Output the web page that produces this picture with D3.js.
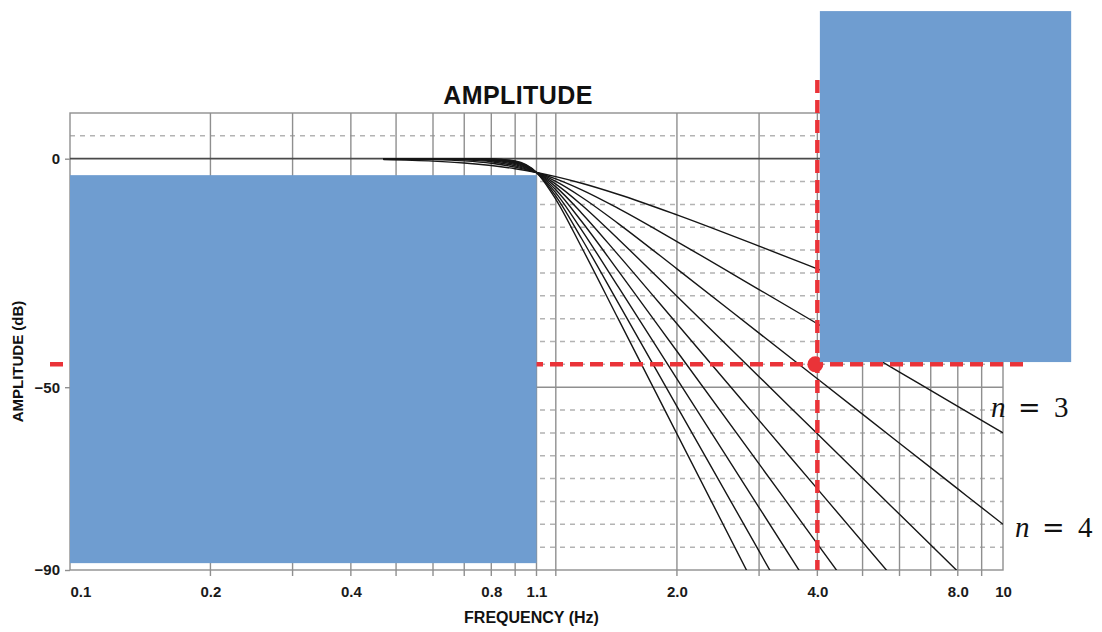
<!DOCTYPE html>
<html lang="en">
<head>
    <meta charset="UTF-8">
    <script src="https://cdnjs.cloudflare.com/ajax/libs/d3/7.8.5/d3.min.js"></script>
    <title>Amplitude</title>
    <style>
        body { margin: 0; background: #fff; }
        svg { display: block; font-family: "Liberation Sans", Arial, sans-serif; }
        .tick-label { fill: #1a1a1a; font-size: 15px; font-weight: 700; }
        .axis-title { fill: #111; font-weight: 700; }
        .n-label { fill: #111; font-family: "Liberation Serif", serif; font-size: 29px; }
    </style>
</head>
<body>
<script>
    // frequencies (Hz) at which the curves are read
    const freqs = [0.47, 0.6, 0.7, 0.8, 0.9, 1.0, 1.1, 1.25, 1.5, 2, 3, 4, 6, 8, 10];
    const orders = [2, 3, 4, 5, 6, 7, 8, 9, 10];

    // amplitude (dB) per filter order, aligned with freqs
    const dbN2 = [-0.21, -0.53, -0.93, -1.49, -2.19, -3.01, -3.92, -5.37, -7.83, -12.3, -19.14, -24.1, -31.13, -36.12, -40.0];
    const dbN3 = [-0.05, -0.2, -0.48, -1.01, -1.85, -3.01, -4.43, -6.83, -10.93, -18.13, -28.64, -36.12, -46.69, -54.19, -60.0];
    const dbN4 = [-0.01, -0.07, -0.24, -0.67, -1.56, -3.01, -4.98, -8.43, -14.25, -24.1, -38.17, -48.16, -62.26, -72.25, -80.0];
    const dbN5 = [0, -0.03, -0.12, -0.44, -1.3, -3.01, -5.56, -10.13, -17.68, -30.11, -47.71, -60.21, -77.82, -90.31];
    const dbN6 = [0, -0.01, -0.06, -0.29, -1.08, -3.01, -6.17, -11.92, -21.16, -36.12, -57.25, -72.25, -93.38];
    const dbN7 = [0, 0, -0.03, -0.19, -0.89, -3.01, -6.81, -13.75, -24.67, -42.14, -66.79, -84.29, -108.9];
    const dbN8 = [0, 0, -0.01, -0.12, -0.74, -3.01, -7.48, -15.62, -28.18, -48.16, -76.34, -96.33];
    const dbN9 = [0, 0, -0.01, -0.08, -0.61, -3.01, -8.17, -17.52, -31.7, -54.19, -85.88, -108.4];
    const dbN10 = [0, 0, 0, -0.05, -0.5, -3.01, -8.88, -19.43, -35.22, -60.21, -95.42];
    const series = [dbN2, dbN3, dbN4, dbN5, dbN6, dbN7, dbN8, dbN9, dbN10];
    const labelledOrders = [3, 4];

    // axes
    const xDomain = [0.1, 10];
    const yDomain = [-90, 10];
    const xTickValues = [0.1, 0.2, 0.4, 0.8, 1.0, 2, 4, 8, 10];
    const xTickLabels = ['0.1', '0.2', '0.4', '0.8', '1.1', '2.0', '4.0', '8.0', '10'];
    const yTickValues = [0, -50, -90];
    const xGrid = [0.2, 0.3, 0.4, 0.5, 0.6, 0.7, 0.8, 0.9, 1.0, 1.1, 2, 3, 4, 5, 6, 7, 8, 9];
    const yDashed = [5, -5, -10, -15, -20, -25, -30, -35, -40, -45, -55, -60, -65, -70, -75, -80, -85];
    const ySolid = [-50];

    // red marker (4 Hz, -45 dB)
    const markerFreq = 4;
    const markerDb = -45;

    // blue boxes laid over the chart, in data units
    const boxes = [
        {f0: 0.1, f1: 1.0, db0: -3.6, db1: -88.5},
        {f0: 4.05, f1: 14, db0: 32.3, db1: -44.5}
    ];

    const width = 1102;
    const height = 632;
    const plotLeft = 70;
    const plotRight = 1003;
    const plotTop = 113;
    const plotBottom = 570;

    const gridColor = '#8f8f8f';
    const dashColor = '#b3b3b3';
    const red = '#ea3338';
    const blue = '#6f9dd0';

    const x = d3.scaleLog().domain(xDomain).range([plotLeft, plotRight]);
    const y = d3.scaleLinear().domain(yDomain).range([plotBottom, plotTop]);

    const svg = d3.select('body').append('svg')
        .attr('width', width)
        .attr('height', height);

    svg.append('defs').append('clipPath')
        .attr('id', 'plot-clip')
        .append('rect')
        .attr('x', plotLeft)
        .attr('y', plotTop)
        .attr('width', plotRight - plotLeft)
        .attr('height', plotBottom - plotTop);

    // dashed horizontal grid
    svg.append('g').selectAll('line')
        .data(yDashed)
        .join('line')
        .attr('x1', plotLeft).attr('x2', plotRight)
        .attr('y1', d => y(d)).attr('y2', d => y(d))
        .attr('stroke', dashColor)
        .attr('stroke-width', 1.5)
        .attr('stroke-dasharray', '5,5');

    // solid horizontal grid
    svg.append('g').selectAll('line')
        .data(ySolid)
        .join('line')
        .attr('x1', plotLeft).attr('x2', plotRight)
        .attr('y1', d => y(d)).attr('y2', d => y(d))
        .attr('stroke', gridColor)
        .attr('stroke-width', 1.4);

    // vertical grid, running a little below the axis as ticks
    svg.append('g').selectAll('line')
        .data(xGrid)
        .join('line')
        .attr('x1', d => x(d)).attr('x2', d => x(d))
        .attr('y1', plotTop).attr('y2', plotBottom + 6)
        .attr('stroke', gridColor)
        .attr('stroke-width', 1.4);

    // frame
    svg.append('rect')
        .attr('x', x(xDomain[0]))
        .attr('y', y(yDomain[1]))
        .attr('width', x(xDomain[1]) - x(xDomain[0]))
        .attr('height', y(yDomain[0]) - y(yDomain[1]))
        .attr('fill', 'none')
        .attr('stroke', gridColor)
        .attr('stroke-width', 1.4);

    // 0 dB line
    svg.append('line')
        .attr('x1', plotLeft).attr('x2', plotRight)
        .attr('y1', y(0)).attr('y2', y(0))
        .attr('stroke', '#4a4a4a')
        .attr('stroke-width', 1.7);

    // axes (labels only, lines come from the grid)
    const xAxis = d3.axisBottom(x)
        .tickValues(xTickValues)
        .tickSize(0)
        .tickPadding(16)
        .tickFormat((d, i) => xTickLabels[i]);

    const gx = svg.append('g')
        .attr('transform', 'translate(0,' + plotBottom + ')')
        .call(xAxis);
    gx.select('.domain').remove();
    gx.selectAll('text')
        .attr('class', 'tick-label')
        .attr('text-anchor', (d, i) => i === 0 ? 'start' : 'middle');

    const yAxis = d3.axisLeft(y)
        .tickValues(yTickValues)
        .tickSize(5)
        .tickPadding(5);

    const gy = svg.append('g')
        .attr('transform', 'translate(' + plotLeft + ',0)')
        .call(yAxis);
    gy.select('.domain').remove();
    gy.selectAll('line').attr('stroke', gridColor).attr('stroke-width', 1.4);
    gy.selectAll('text').attr('class', 'tick-label').attr('font-size', null);

    // curves
    const line = d3.line()
        .x(d => x(d.f))
        .y(d => y(d.db))
        .curve(d3.curveMonotoneX);

    const curves = orders.map((n, i) => ({
        n: n,
        points: series[i].map((db, j) => ({f: freqs[j], db: db}))
    }));

    svg.append('g')
        .attr('clip-path', 'url(#plot-clip)')
        .selectAll('path')
        .data(curves)
        .join('path')
        .attr('d', d => line(d.points))
        .attr('fill', 'none')
        .attr('stroke', '#161616')
        .attr('stroke-width', 1.4);

    // red marker lines and dot
    const mx = x(markerFreq);
    const my = y(markerDb);
    svg.append('line')
        .attr('x1', plotLeft - 20).attr('x2', plotRight + 27)
        .attr('y1', my).attr('y2', my)
        .attr('stroke', red)
        .attr('stroke-width', 4.5)
        .attr('stroke-dasharray', '13,7');
    svg.append('line')
        .attr('x1', mx).attr('x2', mx)
        .attr('y1', plotTop - 33).attr('y2', plotBottom)
        .attr('stroke', red)
        .attr('stroke-width', 4.5)
        .attr('stroke-dasharray', '13,7');
    svg.append('circle')
        .attr('cx', mx - 2)
        .attr('cy', my)
        .attr('r', 8)
        .attr('fill', red);

    // blue boxes
    svg.append('g').selectAll('rect')
        .data(boxes)
        .join('rect')
        .attr('x', d => x(d.f0))
        .attr('y', d => y(d.db0))
        .attr('width', d => x(d.f1) - x(d.f0))
        .attr('height', d => y(d.db1) - y(d.db0))
        .attr('fill', blue);

    // order labels at the end of their curves
    const labelOffsets = {3: {dx: -12, dy: -16}, 4: {dx: 12, dy: 13}};
    labelledOrders.forEach(function(n) {
        const c = curves.find(d => d.n === n);
        const end = c.points[c.points.length - 1];
        const lx = x(end.f) + labelOffsets[n].dx;
        const ly = y(end.db) + labelOffsets[n].dy;
        const t = svg.append('text')
            .attr('class', 'n-label')
            .attr('y', ly);
        t.append('tspan').attr('x', lx).attr('font-style', 'italic').text('n');
        t.append('tspan').attr('x', lx + 27)
            .attr('font-family', '"DejaVu Serif", serif')
            .attr('font-size', 27)
            .text('=');
        t.append('tspan').attr('x', lx + 63).text(n);
    });

    // titles
    svg.append('text')
        .attr('class', 'axis-title')
        .attr('x', 518)
        .attr('y', 104)
        .attr('text-anchor', 'middle')
        .attr('font-size', 25)
        .attr('letter-spacing', 0.4)
        .text('AMPLITUDE');

    svg.append('text')
        .attr('class', 'axis-title')
        .attr('x', (plotLeft + plotRight) / 2 - 5)
        .attr('y', 623)
        .attr('text-anchor', 'middle')
        .attr('font-size', 16)
        .text('FREQUENCY (Hz)');

    svg.append('text')
        .attr('class', 'axis-title')
        .attr('transform', 'translate(23,' + ((plotTop + plotBottom) / 2 + 20) + ') rotate(-90)')
        .attr('text-anchor', 'middle')
        .attr('font-size', 15)
        .text('AMPLITUDE (dB)');
</script>
</body>
</html>
